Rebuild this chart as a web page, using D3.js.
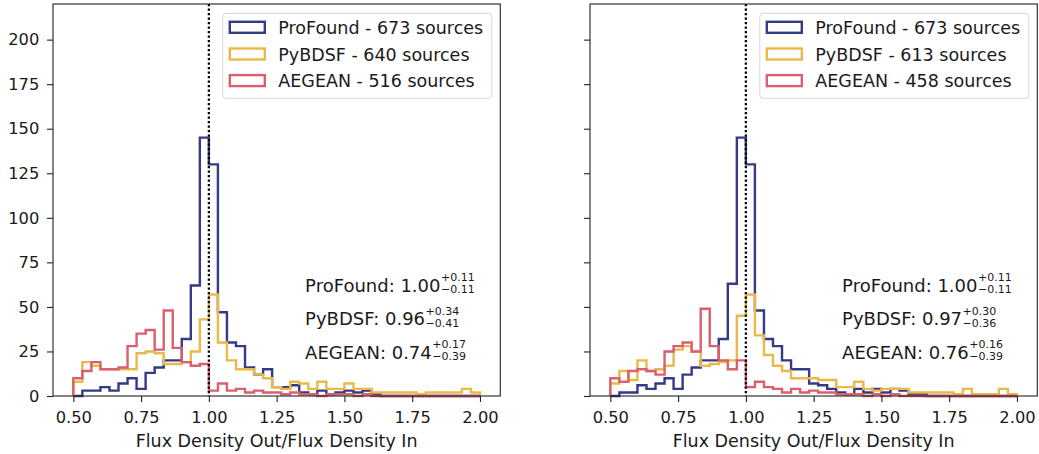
<!DOCTYPE html>
<html><head><meta charset="utf-8">
<script src="https://cdn.jsdelivr.net/npm/d3@7"></script>
<style>
body{margin:0;background:#fff}
svg{display:block}
text{font-family:"DejaVu Sans",sans-serif;fill:#1a1a1a}
</style>
</head><body>
<svg id="chart" width="1039" height="454"></svg>
<script>
// ---- data ----
const binStart = 0.5, binEnd = 2.0, binCount = 45;
const xTicks = [0.5, 0.75, 1.0, 1.25, 1.5, 1.75, 2.0];
const xTickLabels = ["0.50", "0.75", "1.00", "1.25", "1.50", "1.75", "2.00"];
const yTicks = [0, 25, 50, 75, 100, 125, 150, 175, 200];
const yTickLabels = ["0", "25", "50", "75", "100", "125", "150", "175", "200"];
const seriesNames = ["ProFound", "PyBDSF", "AEGEAN"];
const seriesColors = ["#353a85", "#e9b949", "#db5f6c"];

const profoundLeft = [0,3,3,5,3,7,10,4,13,16,20,20,32,62,145,130,47,30,28,16,12,15,5,5,6,2,1,3,1,2,3,2,3,1,0,0,0,0,0,0,0,0,0,0,0];
const pybdsfLeft   = [8,19,17,15,15,15,15,24,25,24,18,18,19,25,43,57,30,20,15,15,12,10,5,4,8,7,4,8,4,4,7,4,4,2,2,2,2,2,1,2,2,2,2,4,2];
const aegeanLeft   = [10,14,19,15,15,16,28,35,37,26,48,27,19,17,18,3,7,3,4,2,3,2,2,1,2,1,1,0,1,1,1,0,1,0,0,0,0,0,0,0,0,0,0,0,0];

const profoundRight = [0,2,2,6,4,7,10,4,12,16,20,20,32,63,145,130,48,32,28,20,15,15,7,6,4,2,1,4,2,4,2,4,3,1,1,0,0,0,0,0,0,0,0,0,0];
const pybdsfRight   = [7,14,9,20,14,15,17,26,28,25,17,18,19,20,45,57,34,23,17,14,10,10,10,9,9,5,5,8,4,3,4,4,4,2,2,2,2,2,1,4,1,1,1,4,1];
const aegeanRight   = [10,8,14,15,14,12,25,28,30,25,49,28,20,15,20,5,8,5,4,2,4,2,3,2,2,1,1,1,0,1,0,1,0,0,0,0,0,0,0,0,0,0,0,0,0];

const legendLeft  = ["ProFound - 673 sources", "PyBDSF - 640 sources", "AEGEAN - 516 sources"];
const legendRight = ["ProFound - 673 sources", "PyBDSF - 613 sources", "AEGEAN - 458 sources"];

const statValuesLeft  = ["1.00", "0.96", "0.74"];
const statUpperLeft   = ["+0.11", "+0.34", "+0.17"];
const statLowerLeft   = ["−0.11", "−0.41", "−0.39"];
const statValuesRight = ["1.00", "0.97", "0.76"];
const statUpperRight  = ["+0.11", "+0.30", "+0.16"];
const statLowerRight  = ["−0.11", "−0.36", "−0.39"];

const xLabel = "Flux Density Out/Flux Density In";

// ---- drawing ----
const svg = d3.select("#chart");
const plotTop = 4, plotBottom = 396;
const y = d3.scaleLinear().domain([0, 220]).range([plotBottom, plotTop]);

function drawPanel(left, right, showYLabels, seriesData, legendLabels, vals, ups, los) {
  const x = d3.scaleLinear().domain([0.425, 2.075]).range([left, right]);
  const g = svg.append("g");
  const w = (binEnd - binStart) / binCount;

  // histograms (step)
  const line = d3.line().x(d => x(d[0])).y(d => y(d[1])).curve(d3.curveLinear);
  seriesData.forEach((counts, si) => {
    const pts = [[binStart, 0]];
    counts.forEach((c, i) => {
      const e0 = binStart + i * w, e1 = binStart + (i + 1) * w;
      pts.push([e0, c]); pts.push([e1, c]);
    });
    pts.push([binEnd, 0]);
    g.append("path").attr("d", line(pts))
      .attr("fill", "none").attr("stroke", seriesColors[si])
      .attr("stroke-width", 2.4).attr("stroke-linejoin", "miter");
  });

  // dotted reference line
  g.append("line").attr("x1", x(1)).attr("x2", x(1))
    .attr("y1", plotTop).attr("y2", plotBottom)
    .attr("stroke", "#000").attr("stroke-width", 2.3)
    .attr("stroke-dasharray", "2.3,2.2");

  // axes
  const xAxis = d3.axisBottom(x).tickValues(xTicks)
    .tickFormat((d, i) => xTickLabels[i]).tickSize(6).tickPadding(9).tickSizeOuter(0);
  const gx = g.append("g").attr("transform", `translate(0,${plotBottom})`).call(xAxis);
  gx.select(".domain").remove();
  gx.selectAll("line").attr("stroke", "#222").attr("stroke-width", 1.1);
  gx.selectAll("text").attr("font-size", "16.3px").attr("fill", "#1a1a1a")
    .attr("font-family", "DejaVu Sans");

  const yAxis = d3.axisLeft(y).tickValues(yTicks)
    .tickFormat((d, i) => showYLabels ? yTickLabels[i] : "").tickSize(6).tickPadding(7.7).tickSizeOuter(0);
  const gy = g.append("g").attr("transform", `translate(${left},0)`).call(yAxis);
  gy.select(".domain").remove();
  gy.selectAll("line").attr("stroke", "#222").attr("stroke-width", 1.1);
  gy.selectAll("text").attr("font-size", "16.3px").attr("fill", "#1a1a1a")
    .attr("font-family", "DejaVu Sans");

  // frame
  g.append("rect").attr("x", left).attr("y", plotTop)
    .attr("width", right - left).attr("height", plotBottom - plotTop)
    .attr("fill", "none").attr("stroke", "#222").attr("stroke-width", 1.1);

  // x label
  g.append("text").attr("x", (left + right) / 2).attr("y", 446.7)
    .attr("text-anchor", "middle").attr("font-size", "17.5px").text(xLabel);

  // legend
  const boxRight = right - 8.5, boxW = 269, boxLeft = boxRight - boxW;
  const lg = g.append("g");
  lg.append("rect").attr("x", boxLeft).attr("y", 13.3).attr("width", boxW).attr("height", 85)
    .attr("rx", 3).attr("fill", "#fff").attr("fill-opacity", 0.8)
    .attr("stroke", "#d6d6d6").attr("stroke-width", 1);
  const rowBase = [34, 60.7, 87.3];
  legendLabels.forEach((lab, i) => {
    lg.append("rect").attr("x", boxLeft + 7).attr("y", rowBase[i] - 12.2)
      .attr("width", 35).attr("height", 11)
      .attr("fill", "none").attr("stroke", seriesColors[i]).attr("stroke-width", 2.4);
    lg.append("text").attr("x", boxLeft + 55.5).attr("y", rowBase[i])
      .attr("font-size", "17.5px").text(lab);
  });

  // statistics annotations
  const statX = x(1.355);
  const statCounts = [58.6, 39.8, 21.0];
  seriesNames.forEach((nm, i) => {
    const by = y(statCounts[i]);
    const t = g.append("text").attr("x", statX).attr("y", by)
      .attr("font-size", "18px").text(nm + ": " + vals[i]);
    const tw = t.node().getComputedTextLength();
    g.append("text").attr("x", statX + tw + 0.5).attr("y", by - 10.3)
      .attr("font-size", "11px").text(ups[i]);
    g.append("text").attr("x", statX + tw + 0.5).attr("y", by + 1.8)
      .attr("font-size", "11px").text(los[i]);
  });
}

drawPanel(53, 500.3, true, [profoundLeft, pybdsfLeft, aegeanLeft], legendLeft,
  statValuesLeft, statUpperLeft, statLowerLeft);
drawPanel(590, 1037.3, false, [profoundRight, pybdsfRight, aegeanRight], legendRight,
  statValuesRight, statUpperRight, statLowerRight);
</script>
</body></html>
